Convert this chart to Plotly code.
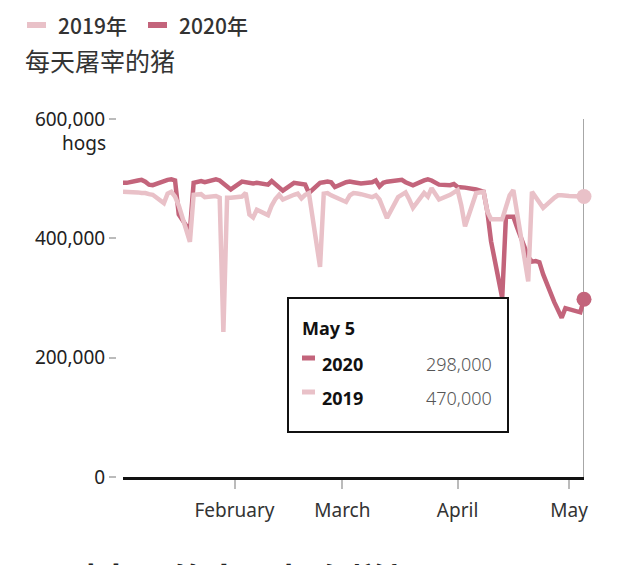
import plotly.graph_objects as go
import pandas as pd

# weekday dates, Jan 2 - May 5 (2020 calendar; 2019 aligned by weekday)
dates = pd.bdate_range("2020-01-02", "2020-05-05")

hogs_2020 = [
    493000, 493000, 497000, 498000, 495000, 490000, 489000, 497000, 498000, 499000, 497000,
    440000, 412000, 493000, 494000, 496000, 494000, 499000, 497000, 492000, 485000, 482000,
    495000, 494000, 493000, 492000, 493000, 490000, 496000, 490000, 486000, 480000,
    493000, 492000, 491000, 490000, 476000, 493000, 494000, 495000, 494000, 486000,
    494000, 495000, 494000, 493000, 492000, 494000, 497000, 487000, 493000, 495000, 497000,
    498000, 494000, 491000, 489000, 497000, 499000, 497000, 494000, 490000, 489000, 491000,
    486000, 486000, 485000, 482000, 479000, 478000, 445000, 395000, 300000, 436000, 436000,
    436000, 418000, 369000, 361000, 362000, 360000, 340000, 293000, 278000, 267000, 283000,
    281000, 276000, 298000,
]
hogs_2019 = [
    478000, 478000, 477000, 476000, 476000, 474000, 473000, 459000, 475000, 478000, 470000,
    455000, 394000, 473000, 474000, 474000, 469000, 471000, 468000, 243000, 468000, 468000,
    470000, 476000, 440000, 435000, 448000, 439000, 455000, 466000, 473000, 465000,
    473000, 475000, 467000, 473000, 476000, 352000, 475000, 476000, 472000, 469000,
    461000, 472000, 476000, 475000, 474000, 469000, 472000, 465000, 448000, 434000, 469000,
    474000, 477000, 465000, 451000, 476000, 470000, 484000, 475000, 465000, 473000, 478000,
    481000, 455000, 420000, 476000, 477000, 478000, 445000, 432000, 432000, 455000, 472000,
    481000, 440000, 328000, 478000, 470000, 460000, 451000, 468000, 472000, 472000, 472000,
    471000, 470000, 470000,
]

x_tickvals = ["2020-02-01", "2020-03-01", "2020-04-01", "2020-05-01"]
x_ticktext = ["February", "March", "April", "May"]
y_tickvals = [0, 200000, 400000, 600000]
y_ticktext = ["0", "200,000", "400,000", "600,000"]

series_names = ["2019年", "2020年"]
subtitle = "每天屠宰的猪"
tooltip_date = "May 5"
next_heading = "面对中国的出口却在增加"

C20 = "#c3647b"
C19 = "#e9c1c8"
LATIN = "Noto Sans, Noto Sans CJK SC, sans-serif"
CJK = "Noto Sans CJK SC, Noto Sans, sans-serif"

W, H = 640, 565
L, R, T, B = 116, 56, 119, 88
PW, PH = W - L - R, H - T - B


def px(xp):
    return (xp - L) / PW


def py(yp):
    return (H - B - yp) / PH


fig = go.Figure()
fig.add_trace(go.Scatter(x=dates, y=hogs_2020, mode="lines",
                         line=dict(color=C20, width=4.5), hoverinfo="skip"))
fig.add_trace(go.Scatter(x=dates, y=hogs_2019, mode="lines",
                         line=dict(color=C19, width=4.5), hoverinfo="skip"))
fig.add_trace(go.Scatter(x=[dates[-1]], y=[hogs_2019[-1]], mode="markers", cliponaxis=False,
                         marker=dict(color=C19, size=15), hoverinfo="skip"))
fig.add_trace(go.Scatter(x=[dates[-1]], y=[hogs_2020[-1]], mode="markers", cliponaxis=False,
                         marker=dict(color=C20, size=15), hoverinfo="skip"))

shapes = [
    dict(type="line", xref="x", yref="paper", x0=dates[-1], x1=dates[-1], y0=0, y1=1,
         line=dict(color="#8a8a8a", width=1.5), layer="below"),
    # tooltip box
    dict(type="rect", xref="paper", yref="paper", x0=px(288), x1=px(508), y0=py(432), y1=py(298),
         line=dict(color="#111", width=2), fillcolor="white", layer="above"),
    dict(type="line", xref="paper", yref="paper", x0=px(302), x1=px(315), y0=py(358), y1=py(358),
         line=dict(color=C20, width=5), layer="above"),
    dict(type="line", xref="paper", yref="paper", x0=px(302), x1=px(315), y0=py(392), y1=py(392),
         line=dict(color=C19, width=5), layer="above"),
    # legend swatches
    dict(type="line", xref="paper", yref="paper", x0=px(27), x1=px(46), y0=py(25), y1=py(25),
         line=dict(color=C19, width=6)),
    dict(type="line", xref="paper", yref="paper", x0=px(148), x1=px(167), y0=py(25), y1=py(25),
         line=dict(color=C20, width=6)),
]

annotations = [
    dict(text=series_names[0], xref="paper", yref="paper", x=px(56), y=py(25), xanchor="left",
         yanchor="middle", showarrow=False, font=dict(family=CJK, size=21, color="#333", weight=500)),
    dict(text=series_names[1], xref="paper", yref="paper", x=px(177), y=py(25), xanchor="left",
         yanchor="middle", showarrow=False, font=dict(family=CJK, size=21, color="#333", weight=500)),
    dict(text=subtitle, xref="paper", yref="paper", x=px(23), y=py(60), xanchor="left",
         yanchor="middle", showarrow=False, font=dict(family=CJK, size=25, color="#333")),
    dict(text="hogs", xref="paper", yref="paper", x=px(108), y=py(143), xanchor="right",
         yanchor="middle", showarrow=False, font=dict(family=LATIN, size=19, color="#222")),
    dict(text="<b>%s</b>" % tooltip_date, xref="paper", yref="paper", x=px(300), y=py(328),
         xanchor="left", yanchor="middle", showarrow=False,
         font=dict(family=LATIN, size=18, color="#111")),
    dict(text="<b>2020</b>", xref="paper", yref="paper", x=px(320), y=py(364),
         xanchor="left", yanchor="middle", showarrow=False,
         font=dict(family=LATIN, size=18, color="#111")),
    dict(text="<b>2019</b>", xref="paper", yref="paper", x=px(320), y=py(398),
         xanchor="left", yanchor="middle", showarrow=False,
         font=dict(family=LATIN, size=18, color="#111")),
    dict(text=f"{hogs_2020[-1]:,}", xref="paper", yref="paper", x=px(494), y=py(364),
         xanchor="right", yanchor="middle", showarrow=False,
         font=dict(family=LATIN, size=18, color="#555", weight=300)),
    dict(text=f"{hogs_2019[-1]:,}", xref="paper", yref="paper", x=px(494), y=py(398),
         xanchor="right", yanchor="middle", showarrow=False,
         font=dict(family=LATIN, size=18, color="#555", weight=300)),
    dict(text=next_heading, xref="paper", yref="paper", x=px(24), y=py(579), xanchor="left",
         yanchor="middle", showarrow=False,
         font=dict(family=CJK, size=36, color="#222", weight="bold")),
]

fig.update_layout(
    width=W, height=H,
    margin=dict(l=L, r=R, t=T, b=B, pad=0),
    paper_bgcolor="white", plot_bgcolor="white",
    showlegend=False, hovermode=False,
    shapes=shapes, annotations=annotations,
    xaxis=dict(
        type="date", domain=[7 / PW, 1], range=[dates[0], dates[-1]],
        tickvals=x_tickvals, ticktext=x_ticktext,
        ticks="outside", ticklen=9, tickwidth=1.5, tickcolor="#bbb",
        ticklabelstandoff=5,
        showline=True, linecolor="#111", linewidth=3,
        showgrid=False, zeroline=False,
        tickfont=dict(family=LATIN, size=19, color="#333"),
    ),
    yaxis=dict(
        range=[0, 600000], anchor="free", position=0,
        tickvals=y_tickvals, ticktext=y_ticktext,
        ticks="outside", ticklen=7, tickwidth=1.5, tickcolor="#bbb",
        showline=False, showgrid=False, zeroline=False,
        tickfont=dict(family=LATIN, size=19, color="#222"),
    ),
)

fig.write_html("out.html")
